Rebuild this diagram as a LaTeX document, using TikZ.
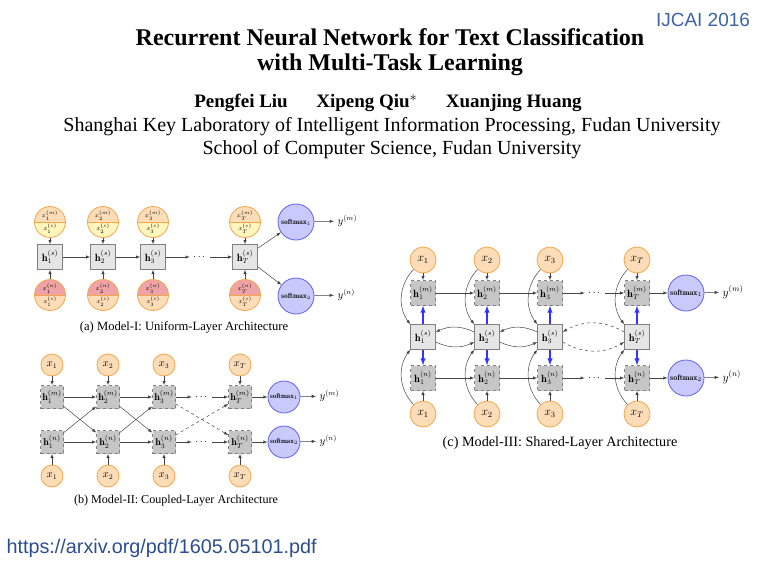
\documentclass[tikz,border=0pt]{standalone}
\usepackage{amsmath,amssymb}
\usepackage{fontspec}
\newfontfamily\timesfont{Liberation Serif}
\newfontfamily\arialfont{Liberation Sans}
\usepackage{tikz}
\usetikzlibrary{arrows,positioning,calc}

\definecolor{inpfill}{HTML}{FDDDB8}
\definecolor{inpdraw}{HTML}{F5A54A}
\definecolor{shfill}{HTML}{FFF6BE}
\definecolor{prfill}{HTML}{EFA3A6}
\definecolor{smfill}{HTML}{C9C9FB}
\definecolor{smdraw}{HTML}{6262F2}
\definecolor{linkblue}{HTML}{2C4E8E}
\definecolor{venueblue}{HTML}{3D62A8}
\definecolor{lncol}{HTML}{444444}

\begin{document}
\begin{tikzpicture}[x=1pt,y=-1pt,>=latex,
  inp/.style={circle,draw=inpdraw,fill=inpfill,line width=.8pt,inner sep=0pt,minimum size=22pt,font=\fontsize{10.5}{12}\selectfont},
  splitup/.style={inp,minimum size=31pt,align=center,font=\fontsize{6.5}{7.5}\selectfont,
    path picture={\fill[shfill] (path picture bounding box.west) rectangle (path picture bounding box.south east);
      \draw[inpdraw,line width=.8pt] (path picture bounding box.west) -- (path picture bounding box.east);}},
  splitdn/.style={inp,minimum size=31pt,align=center,font=\fontsize{6.5}{7.5}\selectfont,
    path picture={\fill[prfill] (path picture bounding box.west) rectangle (path picture bounding box.north east);
      \draw[inpdraw,line width=.8pt] (path picture bounding box.west) -- (path picture bounding box.east);}},
  hsh/.style={draw=gray,fill=gray!20,minimum size=25pt,inner sep=0pt,font=\fontsize{10.5}{12}\selectfont},
  hdd/.style={draw=gray,dashed,fill=gray!45,minimum size=23pt,inner sep=0pt,font=\fontsize{10}{12}\selectfont},
  soft/.style={circle,draw=smdraw,fill=smfill,line width=.8pt,minimum size=36pt,inner sep=0pt,font=\fontsize{7.5}{9}\selectfont},
  lab/.style={anchor=west,font=\fontsize{10.5}{12}\selectfont},
  captxt/.style={font=\timesfont\fontsize{12.6}{15}\selectfont},
  ln/.style={->,lncol,line width=.5pt},
  blu/.style={->,blue!80,line width=1.4pt}]
  \useasboundingbox (0,0) rectangle (773,567);

  % header
  \node[align=center,font=\timesfont\bfseries\fontsize{24}{25.5}\selectfont] (title) at (390,52)
    {Recurrent Neural Network for Text Classification\\with Multi-Task Learning};
  \node[font=\timesfont\bfseries\fontsize{19}{20}\selectfont] (authors) at (388,103)
    {Pengfei Liu\quad\ \ Xipeng Qiu$^*$\quad\ \ Xuanjing Huang};
  \node[align=center,font=\timesfont\fontsize{20}{23.5}\selectfont] (affil) at (392,138)
    {Shanghai Key Laboratory of Intelligent Information Processing, Fudan University\\School of Computer Science, Fudan University};
  \node[font=\arialfont\fontsize{19}{20}\selectfont,text=venueblue] (venue) at (703,20) {IJCAI 2016};
  \node[anchor=west,font=\arialfont\fontsize{19.8}{22}\selectfont,text=linkblue] (url) at (3,548) {https://arxiv.org/pdf/1605.05101.pdf};

  % (a) Model-I
  \node[splitup] (ua1) at (50,222) {$x_1^{(m)}$\\[2.5pt]$x_1^{(s)}$};
  \node[splitup] (ua2) at (103,222) {$x_2^{(m)}$\\[2.5pt]$x_2^{(s)}$};
  \node[splitup] (ua3) at (153,222) {$x_3^{(m)}$\\[2.5pt]$x_3^{(s)}$};
  \node[splitup] (ua4) at (245,222) {$x_T^{(m)}$\\[2.5pt]$x_T^{(s)}$};
  \node[hsh] (ha1) at (50,257) {$\mathbf{h}_1^{(s)}$};
  \node[hsh] (ha2) at (103,257) {$\mathbf{h}_2^{(s)}$};
  \node[hsh] (ha3) at (153,257) {$\mathbf{h}_3^{(s)}$};
  \node (da) at (200,257) {$\cdots$};
  \node[hsh] (ha4) at (245,257) {$\mathbf{h}_T^{(s)}$};
  \node[splitdn] (la1) at (50,295) {$x_1^{(n)}$\\[2.5pt]$x_1^{(s)}$};
  \node[splitdn] (la2) at (103,295) {$x_2^{(n)}$\\[2.5pt]$x_2^{(s)}$};
  \node[splitdn] (la3) at (153,295) {$x_3^{(n)}$\\[2.5pt]$x_3^{(s)}$};
  \node[splitdn] (la4) at (245,295) {$x_T^{(n)}$\\[2.5pt]$x_T^{(s)}$};
  \node[soft] (sa1) at (296,222) {$\mathbf{softmax}_1$};
  \node[soft] (sa2) at (296,296) {$\mathbf{softmax}_2$};
  \node[lab] (ya1) at (334,221) {$y^{(m)}$};
  \node[lab] (ya2) at (334,295) {$y^{(n)}$};
  \draw[ln] (ua1) -- (ha1); \draw[ln] (ua2) -- (ha2); \draw[ln] (ua3) -- (ha3); \draw[ln] (ua4) -- (ha4);
  \draw[ln] (la1) -- (ha1); \draw[ln] (la2) -- (ha2); \draw[ln] (la3) -- (ha3); \draw[ln] (la4) -- (ha4);
  \draw[ln] (ha1) -- (ha2); \draw[ln] (ha2) -- (ha3); \draw[ln] (ha3) -- (da); \draw[ln] (da) -- (ha4);
  \draw[ln] (ha4) -- (sa1); \draw[ln] (ha4) -- (sa2);
  \draw[ln] (sa1) -- (ya1); \draw[ln] (sa2) -- (ya2);
  \node[captxt] (capa) at (184,327) {(a) Model-I: Uniform-Layer Architecture};

  % (b) Model-II
  \node[inp] (xb1) at (52,365) {$x_1$};
  \node[inp] (xb2) at (108,365) {$x_2$};
  \node[inp] (xb3) at (164,365) {$x_3$};
  \node[inp] (xb4) at (240,365) {$x_T$};
  \node[hdd] (mb1) at (52,397) {$\mathbf{h}_1^{(m)}$};
  \node[hdd] (mb2) at (108,397) {$\mathbf{h}_2^{(m)}$};
  \node[hdd] (mb3) at (164,397) {$\mathbf{h}_3^{(m)}$};
  \node (db1) at (202,397) {$\cdots$};
  \node[hdd] (mb4) at (240,397) {$\mathbf{h}_T^{(m)}$};
  \node[hdd] (nb1) at (52,442) {$\mathbf{h}_1^{(n)}$};
  \node[hdd] (nb2) at (108,442) {$\mathbf{h}_2^{(n)}$};
  \node[hdd] (nb3) at (164,442) {$\mathbf{h}_3^{(n)}$};
  \node (db2) at (202,442) {$\cdots$};
  \node[hdd] (nb4) at (240,442) {$\mathbf{h}_T^{(n)}$};
  \node[inp] (zb1) at (52,476) {$x_1$};
  \node[inp] (zb2) at (108,476) {$x_2$};
  \node[inp] (zb3) at (164,476) {$x_3$};
  \node[inp] (zb4) at (240,476) {$x_T$};
  \node[soft,minimum size=32pt,font=\fontsize{7}{8}\selectfont] (sb1) at (284,397) {$\mathbf{softmax}_1$};
  \node[soft,minimum size=32pt,font=\fontsize{7}{8}\selectfont] (sb2) at (284,442) {$\mathbf{softmax}_2$};
  \node[lab] (yb1) at (316,396) {$y^{(m)}$};
  \node[lab] (yb2) at (316,441) {$y^{(n)}$};
  \draw[ln] (xb1) -- (mb1); \draw[ln] (xb2) -- (mb2); \draw[ln] (xb3) -- (mb3); \draw[ln] (xb4) -- (mb4);
  \draw[ln] (zb1) -- (nb1); \draw[ln] (zb2) -- (nb2); \draw[ln] (zb3) -- (nb3); \draw[ln] (zb4) -- (nb4);
  \draw[ln] (mb1) -- (mb2); \draw[ln] (mb2) -- (mb3); \draw[ln] (mb3) -- (db1); \draw[ln] (db1) -- (mb4);
  \draw[ln] (nb1) -- (nb2); \draw[ln] (nb2) -- (nb3); \draw[ln] (nb3) -- (db2); \draw[ln] (db2) -- (nb4);
  \draw[ln] (mb1) -- (nb2); \draw[ln] (nb1) -- (mb2);
  \draw[ln] (mb2) -- (nb3); \draw[ln] (nb2) -- (mb3);
  \draw[ln,dashed] (mb3) -- (nb4); \draw[ln,dashed] (nb3) -- (mb4);
  \draw[ln] (mb4) -- (sb1); \draw[ln] (nb4) -- (sb2);
  \draw[ln] (sb1) -- (yb1); \draw[ln] (sb2) -- (yb2);
  \node[captxt,font=\timesfont\fontsize{12.1}{15}\selectfont] (capb) at (176,501) {(b) Model-II: Coupled-Layer Architecture};

  % (c) Model-III
  \node[inp,minimum size=26pt,font=\fontsize{11.5}{13}\selectfont] (xc1) at (423,260) {$x_1$};
  \node[inp,minimum size=26pt,font=\fontsize{11.5}{13}\selectfont] (xc2) at (487,260) {$x_2$};
  \node[inp,minimum size=26pt,font=\fontsize{11.5}{13}\selectfont] (xc3) at (550,260) {$x_3$};
  \node[inp,minimum size=26pt,font=\fontsize{11.5}{13}\selectfont] (xc4) at (637,260) {$x_T$};
  \node[hdd,minimum size=25pt,font=\fontsize{10.5}{12}\selectfont] (mc1) at (423,293) {$\mathbf{h}_1^{(m)}$};
  \node[hdd,minimum size=25pt,font=\fontsize{10.5}{12}\selectfont] (mc2) at (487,293) {$\mathbf{h}_2^{(m)}$};
  \node[hdd,minimum size=25pt,font=\fontsize{10.5}{12}\selectfont] (mc3) at (550,293) {$\mathbf{h}_3^{(m)}$};
  \node (dc1) at (595,293) {$\cdots$};
  \node[hdd,minimum size=25pt,font=\fontsize{10.5}{12}\selectfont] (mc4) at (637,293) {$\mathbf{h}_T^{(m)}$};
  \node[hsh] (hc1) at (423,337) {$\mathbf{h}_1^{(s)}$};
  \node[hsh] (hc2) at (487,337) {$\mathbf{h}_2^{(s)}$};
  \node[hsh] (hc3) at (550,337) {$\mathbf{h}_3^{(s)}$};
  \node[hsh] (hc4) at (637,337) {$\mathbf{h}_T^{(s)}$};
  \node[hdd,minimum size=25pt,font=\fontsize{10.5}{12}\selectfont] (nc1) at (423,378) {$\mathbf{h}_1^{(n)}$};
  \node[hdd,minimum size=25pt,font=\fontsize{10.5}{12}\selectfont] (nc2) at (487,378) {$\mathbf{h}_2^{(n)}$};
  \node[hdd,minimum size=25pt,font=\fontsize{10.5}{12}\selectfont] (nc3) at (550,378) {$\mathbf{h}_3^{(n)}$};
  \node (dc2) at (595,378) {$\cdots$};
  \node[hdd,minimum size=25pt,font=\fontsize{10.5}{12}\selectfont] (nc4) at (637,378) {$\mathbf{h}_T^{(n)}$};
  \node[inp,minimum size=26pt,font=\fontsize{11.5}{13}\selectfont] (zc1) at (423,414) {$x_1$};
  \node[inp,minimum size=26pt,font=\fontsize{11.5}{13}\selectfont] (zc2) at (487,414) {$x_2$};
  \node[inp,minimum size=26pt,font=\fontsize{11.5}{13}\selectfont] (zc3) at (550,414) {$x_3$};
  \node[inp,minimum size=26pt,font=\fontsize{11.5}{13}\selectfont] (zc4) at (637,414) {$x_T$};
  \node[soft,font=\fontsize{8}{9}\selectfont] (sc1) at (686,293) {$\mathbf{softmax}_1$};
  \node[soft,font=\fontsize{8}{9}\selectfont] (sc2) at (686,378) {$\mathbf{softmax}_2$};
  \node[lab,font=\fontsize{11.5}{13}\selectfont] (yc1) at (719,292) {$y^{(m)}$};
  \node[lab,font=\fontsize{11.5}{13}\selectfont] (yc2) at (719,377) {$y^{(n)}$};
  \draw[ln] (xc1) -- (mc1); \draw[ln] (xc2) -- (mc2); \draw[ln] (xc3) -- (mc3); \draw[ln] (xc4) -- (mc4);
  \draw[ln] (zc1) -- (nc1); \draw[ln] (zc2) -- (nc2); \draw[ln] (zc3) -- (nc3); \draw[ln] (zc4) -- (nc4);
  \draw[ln] (xc1.south west) to[bend right=40] (hc1.north west);
  \draw[ln] (xc2.south west) to[bend right=40] (hc2.north west);
  \draw[ln] (xc3.south west) to[bend right=40] (hc3.north west);
  \draw[ln] (xc4.south west) to[bend right=40] (hc4.north west);
  \draw[ln] (zc1.north west) to[bend left=40] (hc1.south west);
  \draw[ln] (zc2.north west) to[bend left=40] (hc2.south west);
  \draw[ln] (zc3.north west) to[bend left=40] (hc3.south west);
  \draw[ln] (zc4.north west) to[bend left=40] (hc4.south west);
  \draw[blu] (hc1) -- (mc1); \draw[blu] (hc2) -- (mc2); \draw[blu] (hc3) -- (mc3); \draw[blu] (hc4) -- (mc4);
  \draw[blu] (hc1) -- (nc1); \draw[blu] (hc2) -- (nc2); \draw[blu] (hc3) -- (nc3); \draw[blu] (hc4) -- (nc4);
  \draw[ln] (mc1) -- (mc2); \draw[ln] (mc2) -- (mc3); \draw[ln] (mc3) -- (dc1); \draw[ln] (dc1) -- (mc4);
  \draw[ln] (nc1) -- (nc2); \draw[ln] (nc2) -- (nc3); \draw[ln] (nc3) -- (dc2); \draw[ln] (dc2) -- (nc4);
  \draw[ln] ([yshift=-5pt]hc1.east) to[bend right=25] ([yshift=-5pt]hc2.west);
  \draw[ln] ([yshift=5pt]hc2.west) to[bend right=25] ([yshift=5pt]hc1.east);
  \draw[ln] ([yshift=-5pt]hc2.east) to[bend right=25] ([yshift=-5pt]hc3.west);
  \draw[ln] ([yshift=5pt]hc3.west) to[bend right=25] ([yshift=5pt]hc2.east);
  \draw[ln,dashed] ([yshift=-5pt]hc3.east) to[bend right=30] ([yshift=-5pt]hc4.west);
  \draw[ln,dashed] ([yshift=5pt]hc4.west) to[bend right=30] ([yshift=5pt]hc3.east);
  \draw[ln] (mc4) -- (sc1); \draw[ln] (nc4) -- (sc2);
  \draw[ln] (sc1) -- (yc1); \draw[ln] (sc2) -- (yc2);
  \node[captxt,font=\timesfont\fontsize{14.2}{16}\selectfont] (capc) at (560,443) {(c) Model-III: Shared-Layer Architecture};
\end{tikzpicture}
\end{document}
